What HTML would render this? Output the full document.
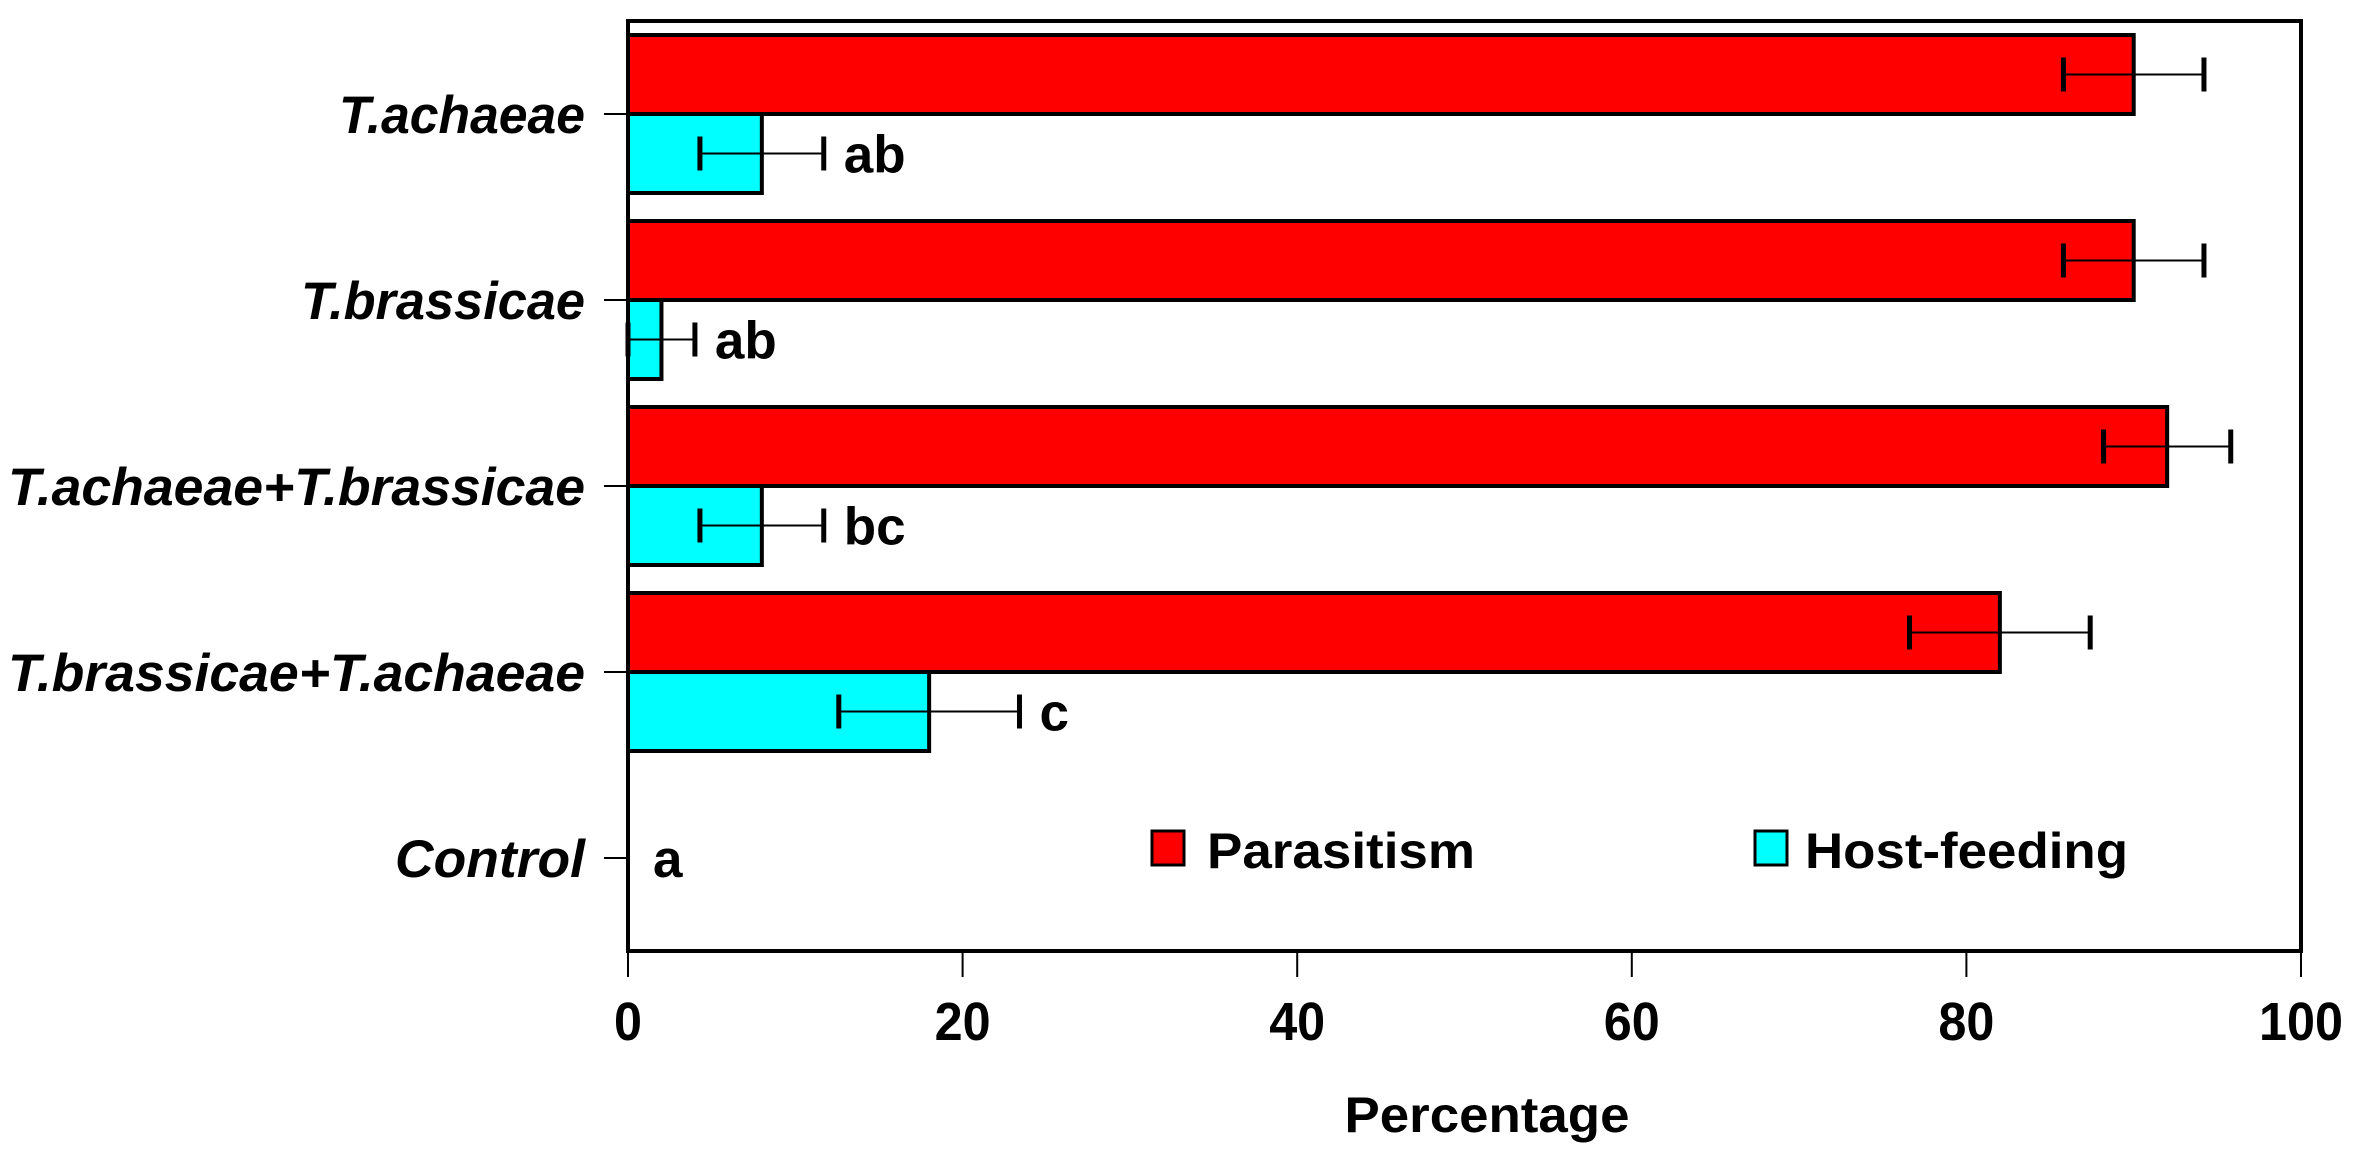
<!DOCTYPE html>
<html><head><meta charset="utf-8"><style>
html,body{margin:0;padding:0;background:#fff;}
svg{display:block;font-family:"Liberation Sans",Arial,sans-serif;}
</style></head><body>
<svg id="chart" width="2353" height="1161" viewBox="0 0 2353 1161" xmlns="http://www.w3.org/2000/svg">
<g id="bars"></g>
<g id="axes"></g>
<g id="legend">
<rect x="1152" y="831" width="32" height="34" fill="#ff0000" stroke="#000" stroke-width="3"/>
<text x="1207" y="868" font-size="50" font-weight="bold" textLength="268" lengthAdjust="spacingAndGlyphs">Parasitism</text>
<rect x="1755" y="831" width="32" height="34" fill="#00ffff" stroke="#000" stroke-width="3"/>
<text x="1805" y="868" font-size="50" font-weight="bold" textLength="323" lengthAdjust="spacingAndGlyphs">Host-feeding</text>
</g>
<text x="1487" y="1132" text-anchor="middle" font-size="50" font-weight="bold" textLength="285" lengthAdjust="spacingAndGlyphs">Percentage</text>
</svg>
<script>
const categories = ["T.achaeae","T.brassicae","T.achaeae+T.brassicae","T.brassicae+T.achaeae","Control"];
const catWidths = [246,284,577,577,190];
const parasitism = [90,90,92,82,null];
const parasitismErr = [4.2,4.2,3.8,5.4,null];
const hostFeeding = [8,2,8,18,0];
const hostFeedingErr = [3.7,2,3.7,5.4,0];
const letters = ["ab","ab","bc","c","a"];
const xTicks = [0,20,40,60,80,100];

const NS="http://www.w3.org/2000/svg";
const L=628,R=2301,T=21,B=951;
const xs=v=>L+(v/100)*(R-L);
const band=(B-T)/categories.length;
const yc=i=>T+band*(i+0.5);
const barH=79;
function mk(tag,attrs,parent){const e=document.createElementNS(NS,tag);for(const k in attrs)e.setAttribute(k,attrs[k]);parent.appendChild(e);return e;}
const bars=document.getElementById('bars'), axes=document.getElementById('axes');

function errBar(v,err,y,name){
  const g=mk('g',{},bars);
  
  
  mk('line',{x1:xs(v-err),x2:xs(v+err),y1:y,y2:y,stroke:'#000','stroke-width':2},g);
  mk('rect',{x:xs(v-err)-2.5,y:y-17,width:5,height:34,fill:'#000'},g);
  mk('rect',{x:xs(v+err)-2.5,y:y-17,width:5,height:34,fill:'#000'},g);
}

categories.forEach((c,i)=>{
  const y=yc(i);
  if(parasitism[i]!=null){
    const r=mk('rect',{x:L,y:y-barH,width:xs(parasitism[i])-L,height:barH,fill:'#ff0000',stroke:'#000','stroke-width':4},bars);
    
    
    errBar(parasitism[i],parasitismErr[i],y-barH/2,'error-bar-parasitism');
  }
  let endX=L+25;
  if(hostFeeding[i]>0){
    const r=mk('rect',{x:L,y:y,width:xs(hostFeeding[i])-L,height:barH,fill:'#00ffff',stroke:'#000','stroke-width':4},bars);
    
    
    errBar(hostFeeding[i],hostFeedingErr[i],y+barH/2,'error-bar-host-feeding');
    endX=xs(hostFeeding[i]+hostFeedingErr[i])+20;
  }
  const ly = hostFeeding[i]>0 ? y+barH/2+19 : y+19;
  const t=mk('text',{x:endX,y:ly,'font-size':53,'font-weight':'bold'},bars);
  
  
  t.textContent=letters[i];
  mk('line',{x1:L-24,x2:L,y1:y,y2:y,stroke:'#000','stroke-width':2},axes);
  const lb=mk('text',{x:585,y:y+19,'text-anchor':'end','font-size':53,'font-weight':'bold','font-style':'italic',textLength:catWidths[i],lengthAdjust:'spacingAndGlyphs'},axes);
  
  
  lb.textContent=c;
});

const frame=mk('rect',{x:L,y:T,width:R-L,height:B-T,fill:'none',stroke:'#000','stroke-width':4},axes);


xTicks.forEach(v=>{
  mk('line',{x1:xs(v),x2:xs(v),y1:B,y2:B+26,stroke:'#000','stroke-width':2},axes);
  const s=String(v);
  const t=mk('text',{x:xs(v),y:1040,'text-anchor':'middle','font-size':54,'font-weight':'bold',textLength:s.length*28,lengthAdjust:'spacingAndGlyphs'},axes);
  
  
  t.textContent=s;
});
</script>
</body></html>
